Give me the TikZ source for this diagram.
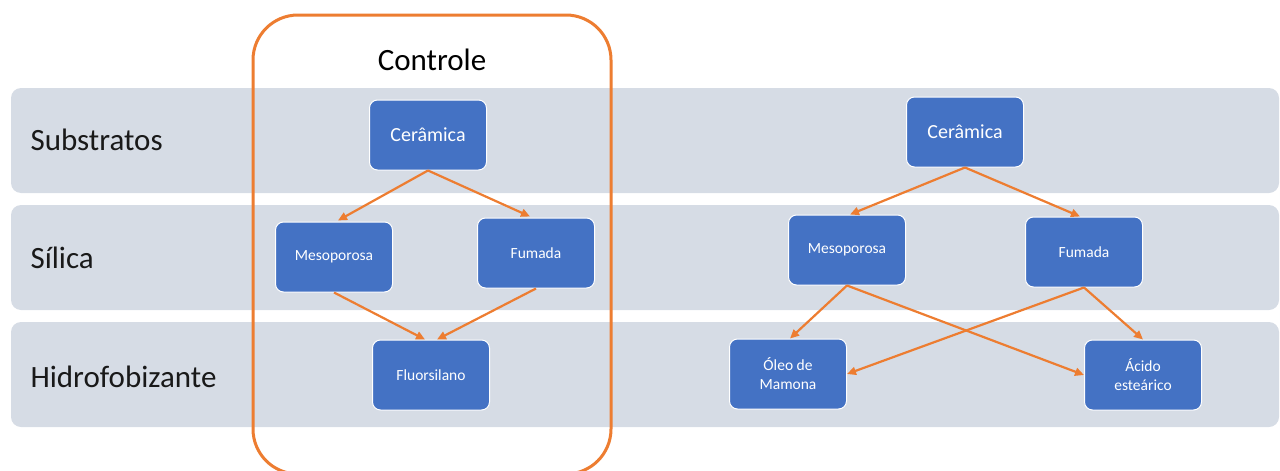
\documentclass[tikz,border=0pt]{standalone}
\usepackage{fontspec}
\setmainfont{Carlito}
\usetikzlibrary{arrows.meta,calc}
\definecolor{bandgray}{HTML}{D6DCE5}
\definecolor{orng}{HTML}{ED7D31}
\definecolor{blu}{HTML}{4472C4}
\tikzset{
  bandbox/.style={fill=bandgray, rounded corners=10pt},
  bandlabel/.style={anchor=west, font=\fontsize{31}{37}\selectfont, text=black!90},
  bluebox/.style={rectangle, rounded corners=8pt, fill=blu, draw=white, line width=1pt,
    text=white, minimum width=117pt, minimum height=70pt, align=center,
    font=\fontsize{15.5}{19}\selectfont},
  bigtxt/.style={font=\fontsize{20}{24}\selectfont},
  arr/.style={draw=orng, line width=2.2pt, -{Triangle[length=9pt,width=8pt]}},
  ctrlbox/.style={draw=orng, line width=3pt, rounded corners=45pt}
}
\begin{document}
\begin{tikzpicture}[x=1pt,y=-1pt]
\useasboundingbox (0,0) rectangle (1280,471);
\begin{scope}
\clip (0,0) rectangle (1280,471);
% bands
\fill[bandbox] (11,88) rectangle (1279,193);
\fill[bandbox] (11,205) rectangle (1279,310);
\fill[bandbox] (11,322) rectangle (1279,427);
% control frame
\draw[ctrlbox] (253,15) rectangle (611,474);
\end{scope}
\node[bandlabel] (ls) at (27,140) {Substratos};
\node[bandlabel] (lsi) at (27,258) {Sílica};
\node[bandlabel] (lh) at (27,377) {Hidrofobizante};
\node[font=\fontsize{31}{37}\selectfont] (ctl) at (432,60) {Controle};
% left group
\node[bluebox,bigtxt] (c1) at (428,135) {Cerâmica};
\node[bluebox] (m1) at (334,257) {Mesoporosa};
\node[bluebox] (f1) at (536,253) {Fumada};
\node[bluebox] (fl) at (431,375) {Fluorsilano};
% right group
\node[bluebox,bigtxt] (c2) at (965,132) {Cerâmica};
\node[bluebox] (m2) at (847,250) {Mesoporosa};
\node[bluebox] (f2) at (1084,252) {Fumada};
\node[bluebox] (o2) at (788,374) {Óleo de\\Mamona};
\node[bluebox] (a2) at (1143,375) {Ácido\\esteárico};
% arrows left
\draw[arr] (c1.south) -- ($(m1.north)+(4,-1)$);
\draw[arr] (c1.south) -- ($(f1.north)+(-6,-1)$);
\draw[arr] (m1.south) -- ($(fl.north)+(-6,0)$);
\draw[arr] (f1.south) -- ($(fl.north)+(6,0)$);
% arrows right
\draw[arr] (c2.south) -- ($(m2.north)+(3,0)$);
\draw[arr] (c2.south) -- ($(f2.north)+(-4,0)$);
\draw[arr] (m2.south) -- ($(o2.north)+(2,0)$);
\draw[arr] (m2.south) -- (a2.west);
\draw[arr] (f2.south) -- (o2.east);
\draw[arr] (f2.south) -- (a2.north);
\end{tikzpicture}
\end{document}
